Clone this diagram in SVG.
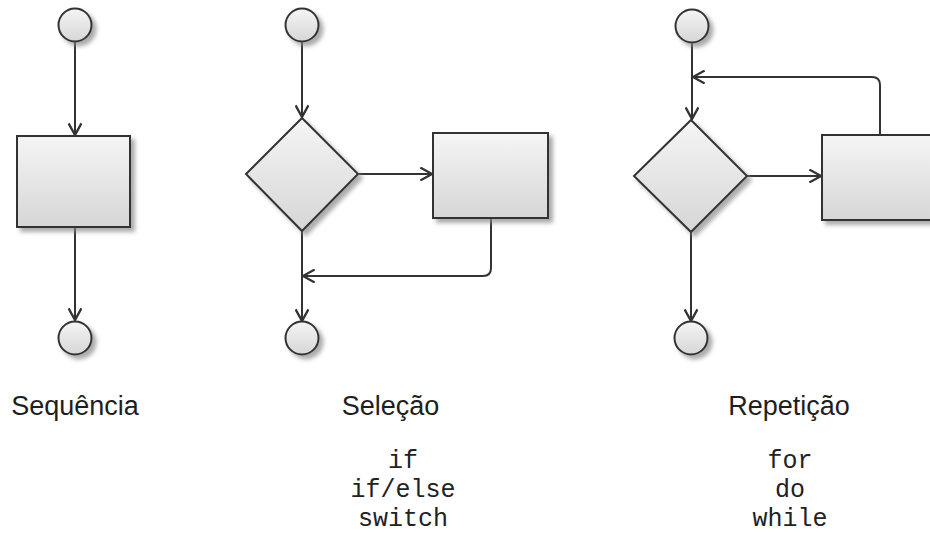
<svg xmlns="http://www.w3.org/2000/svg" width="930" height="533" viewBox="0 0 930 533">
<style>
.shape{fill:url(#g);stroke:#333;stroke-width:2;filter:url(#sh)}
.con{fill:none;stroke:#333;stroke-width:2;marker-end:url(#ar)}
.lbl{font-family:"Liberation Sans",Arial,sans-serif;font-size:27px;fill:#1e1e1e;text-anchor:middle}
.code{font-family:"Liberation Mono","Courier New",monospace;font-size:25px;fill:#222;text-anchor:middle}
</style>
<defs>
<linearGradient id="g" x1="0" y1="0" x2="0" y2="1">
<stop offset="0" stop-color="#f5f5f5"/>
<stop offset="1" stop-color="#d6d6d6"/>
</linearGradient>
<filter id="sh" x="-20%" y="-20%" width="150%" height="150%">
<feDropShadow dx="4" dy="4" stdDeviation="2" flood-color="#888" flood-opacity="0.7"/>
</filter>
<marker id="ar" markerUnits="userSpaceOnUse" markerWidth="14" markerHeight="14" viewBox="0 0 12 12" refX="11" refY="6" orient="auto">
<path d="M1,0.5 L11,6 L1,11.5" fill="none" stroke="#333" stroke-width="2"/>
</marker>
</defs>
<g id="connectors">
<line class="con" x1="75" y1="42" x2="75" y2="135"/>
<line class="con" x1="75" y1="227" x2="75" y2="320"/>
<line class="con" x1="302" y1="42" x2="302" y2="117"/>
<line class="con" x1="358" y1="174" x2="432" y2="174"/>
<path class="con" d="M491,218 L491,268 Q491,276 483,276 L303,276"/>
<line class="con" x1="302" y1="231" x2="302" y2="321"/>
<line class="con" x1="692" y1="43" x2="692" y2="119"/>
<path class="con" d="M880,135 L880,85 Q880,77 872,77 L693,77"/>
<line class="con" x1="747" y1="176" x2="821" y2="176"/>
<line class="con" x1="691" y1="232" x2="691" y2="321"/>
</g>
<g id="seq-start"><circle class="shape" cx="75" cy="25" r="16.5"/></g>
<g id="seq-process"><rect class="shape" x="17" y="136" width="113" height="91"/></g>
<g id="seq-end"><circle class="shape" cx="75" cy="338" r="16.5"/></g>
<g id="sel-start"><circle class="shape" cx="302" cy="25" r="16.5"/></g>
<g id="sel-decision"><polygon class="shape" points="302,118 358,174 302,231 246,174"/></g>
<g id="sel-process"><rect class="shape" x="433" y="133" width="115" height="85"/></g>
<g id="sel-end"><circle class="shape" cx="302" cy="338" r="16.5"/></g>
<g id="rep-start"><circle class="shape" cx="692" cy="26" r="16.5"/></g>
<g id="rep-decision"><polygon class="shape" points="691,120 747,176 691,232 634,176"/></g>
<g id="rep-process"><rect class="shape" x="822" y="135" width="120" height="85"/></g>
<g id="rep-end"><circle class="shape" cx="691" cy="338" r="16.5"/></g>
<g id="labels">
<text class="lbl" x="75" y="415">Sequência</text>
<text class="lbl" x="390.5" y="415">Seleção</text>
<text class="lbl" x="789" y="415">Repetição</text>
<text class="code" x="403" y="468">if</text>
<text class="code" x="403" y="497">if/else</text>
<text class="code" x="403" y="526">switch</text>
<text class="code" x="790" y="468">for</text>
<text class="code" x="790" y="497">do</text>
<text class="code" x="790" y="526">while</text>
</g>
</svg>
